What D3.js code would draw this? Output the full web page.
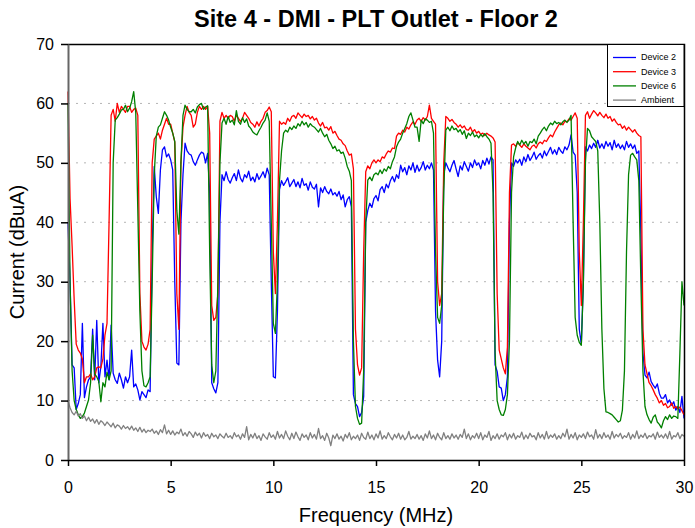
<!DOCTYPE html>
<html>
<head>
<meta charset="utf-8">
<script src="https://cdn.jsdelivr.net/npm/d3@7"></script>
<style>
  body { margin: 0; background: #fff; }
  text { font-family: "Liberation Sans", Arial, sans-serif; fill: #000; }
  .grid line { stroke: #b4b4b4; stroke-dasharray: 2,6; }
</style>
</head>
<body>
<div class="container"></div>
<script>
// Analyzer sweep, 0 - 30 MHz in 0.1 MHz steps
var freqMHz = d3.range(0, 301).map(function(i) { return i / 10; });

var yTicks = [0, 10, 20, 30, 40, 50, 60, 70];
var xTicks = [0, 5, 10, 15, 20, 25, 30];
var seriesNames = ['Device 2', 'Device 3', 'Device 6', 'Ambient'];

var device2 = [
  40, 30, 16, 15.5, 8.5, 9.5, 11, 23, 10.5, 12.3,
  13.5, 14, 22, 13.5, 23.5, 13, 15.7, 23, 14, 16.8,
  13.5, 22.7, 14.6, 13.5, 12.9, 14.6, 13.5, 12.1, 14, 13,
  14, 18.5, 12.3, 12.8, 11.8, 10.1, 11.5, 11, 10.5, 11.8,
  11.5, 35, 49.4, 44.3, 41.5, 48.8, 52.2, 52.7, 51, 51.5,
  50.5, 48.8, 30, 16.3, 16, 40, 48, 53.3, 52, 51.5,
  51.3, 50.2, 49.6, 50.5, 51.3, 51.8, 51.6, 50, 51.6, 45,
  13, 12, 11.3, 13, 40, 48, 47, 48.5, 47.2, 46.6,
  47.5, 48.2, 47, 48.8, 47.4, 46.8, 48, 47.5, 48.6, 47,
  47.6, 46.8, 48.2, 47.2, 47.8, 48.5, 47.5, 49.1, 48, 30,
  14, 13.8, 25, 45.5, 47, 46.2, 46.8, 47.5, 46, 46.6,
  47.2, 46, 46.8, 45.8, 47.4, 46.2, 46.5, 45.4, 46.8, 45.9,
  45.6, 46.4, 42.6, 45.8, 45, 46, 45.2, 44.8, 45.6, 44.6,
  45, 44.4, 45.2, 43.8, 44.6, 42.6, 43.8, 44.3, 42.6, 11,
  9.5, 9, 7.3, 8, 10.7, 40, 42, 43.2, 42.5, 44,
  44.5, 43.6, 45.5, 46, 45, 46.4, 45.8, 47, 47.7, 46.8,
  48, 47.4, 49.6, 48.5, 49.2, 48, 49.5, 48.8, 50, 48.4,
  49.6, 48.6, 49.2, 50.2, 48.8, 49.6, 49, 50, 48.8, 25,
  16.8, 14, 20, 48, 50, 49.2, 48.5, 49.6, 50.4, 49,
  47.7, 49.5, 48.8, 50.2, 49.4, 48.6, 50, 49.2, 50.5, 49.6,
  50, 49, 50.4, 49.6, 50.8, 49.8, 51, 50.5, 16, 14.9,
  12.3, 12.1, 10, 11, 14, 40, 50, 49.4, 50.5, 50,
  50.6, 49.6, 51, 50.2, 51.4, 50.4, 51, 51.8, 50.6, 51.2,
  51.6, 50.8, 52, 51.2, 51.9, 52.6, 51.5, 52.2, 51.4, 52.6,
  52, 51.6, 52.7, 52.2, 53, 54.7, 51.8, 51.3, 45, 22,
  19.5, 30, 52.7, 52, 53, 52.4, 53.3, 52.6, 53.8, 52.5,
  53.2, 52.4, 53.6, 52.8, 53.4, 52.2, 53.8, 52.6, 53.2, 52.4,
  53, 52.2, 53.6, 52.6, 53.2, 52.4, 53, 51.6, 52, 38,
  18, 14.3, 13.8, 14.8, 13.2, 12.6, 12.1, 12.8, 11.2, 10.4,
  10.4, 11, 9.6, 10.1, 9.2, 9.8, 8.4, 9, 8, 10.7,
  7
];

var device3 = [
  62, 44, 36, 27, 19.5, 18.5, 18, 17, 13, 14,
  14, 14.5, 13.5, 14, 15.5, 15.7, 15.5, 17, 21, 23,
  40, 58, 59, 57, 60, 58.5, 59.5, 59, 58.5, 59.5,
  59.5, 58.5, 59, 59.2, 58, 28, 20, 19, 18.5, 19.5,
  22, 50, 54, 54.5, 55, 54, 55.5, 56.5, 57.5, 56.5,
  56.5, 55, 53.5, 28, 22, 50, 56, 58, 59.5, 58.5,
  58, 56, 56.5, 58.5, 59.5, 59, 59.5, 59, 59.5, 55,
  26, 23.5, 24, 28, 57, 58.5, 57.5, 58, 57.5, 58,
  57.8, 57, 58, 57.5, 57, 57.5, 58.5, 58, 57.5, 56.8,
  56.5, 56, 56.9, 56.2, 57, 57.5, 58.5, 58.8, 59.4, 58.6,
  35, 28, 40, 57, 56.5, 56.8, 56.5, 57.5, 57, 57.8,
  58, 57.5, 58.4, 58, 57.6, 58.2, 57.8, 58, 57.4, 57.8,
  57.2, 57.5, 56.7, 56.2, 56.8, 55.9, 56, 55.5, 56.1, 55,
  55.3, 54.6, 54, 53.8, 53.2, 52.9, 52, 51.3, 51.5, 49,
  22, 16, 14.3, 15.5, 35, 48.5, 49.5, 49, 50, 50.5,
  50, 50.5, 50.2, 51, 50.8, 51.5, 52, 51.8, 52.5, 52.4,
  54.5, 55, 54.8, 55.5, 55.2, 56, 55.7, 56.4, 56.9, 56.5,
  57.2, 57.5, 57, 57.6, 57.2, 57.8, 59.7, 57.5, 57, 56.5,
  30, 26, 28, 50, 57.8, 57.5, 57, 57.3, 56.8, 56.5,
  56, 56.4, 55.9, 56.2, 55.6, 55.5, 56, 55.2, 55.6, 55,
  55.3, 54.8, 55, 54.6, 55, 54.7, 54.5, 54.2, 53.5, 28,
  18.5, 17, 15.5, 14.5, 19, 45, 53, 53.2, 52.8, 53.4,
  53, 52.6, 53.2, 52.8, 52.5, 52.2, 52.8, 53, 52.5, 53.2,
  53.5, 53.2, 53.8, 53.6, 54.2, 54.7, 54.4, 55.2, 55.8, 56.4,
  56.7, 56.4, 57, 56.9, 57.4, 57.2, 57.8, 58.4, 57.5, 35,
  26, 40, 58, 58.6, 57.5, 58.2, 58.8, 58.4, 57.9, 58.5,
  58, 57.6, 58.2, 57.5, 57.8, 57, 57.4, 56.8, 56.4, 56.5,
  55.8, 56.2, 55.5, 56, 55.6, 55.2, 55.6, 55, 54.6, 54.4,
  22, 16, 14.5, 13, 12.5, 11.8, 11, 10.4, 9.6, 10,
  9.2, 9.5, 8.8, 9, 9.6, 8.7, 9, 8.6, 8.9, 8.3,
  7.6
];

var device6 = [
  60, 30, 15, 10, 8.5, 7.6, 7, 7.3, 7.9, 9,
  10.1, 13, 21, 14.5, 14, 13.2, 9.8, 13, 12.3, 14.8,
  13.5, 15, 50, 57.2, 57.6, 58.2, 58.9, 59, 59.7, 58.6,
  59.2, 60.3, 62, 58.4, 42, 25, 15, 12.5, 12.3, 13,
  14, 30, 48, 54.5, 56, 56.4, 57.5, 58.6, 58, 57.2,
  56, 55, 53.6, 42, 38, 50, 58, 59.7, 59, 58.6,
  58.6, 59, 58.4, 59.4, 59.8, 60, 59, 59.4, 59.6, 35,
  16, 13, 15, 30, 50, 56.7, 57.5, 56.5, 57.8, 56.8,
  57.2, 56.4, 58.8, 57, 56.5, 57.6, 56.8, 57.4, 56.2, 55.8,
  55.2, 54.9, 54.7, 55.4, 56, 56.7, 57.2, 58.4, 57, 40,
  23, 21.3, 30, 47, 52, 55, 55.5, 55.2, 56, 55.6,
  56.2, 55.8, 56.6, 56.2, 57, 56.4, 56.8, 56, 56.6, 56.2,
  56, 55.6, 55.2, 55.8, 55, 54.4, 54.8, 53.8, 53.2, 52.4,
  52.8, 52, 52.2, 51.6, 51.8, 50.8, 49.4, 48.6, 47, 20,
  9, 7, 6, 6.2, 15, 40, 47.1, 47.6, 47, 48,
  48.3, 48, 48.8, 48.2, 49, 48.6, 49.4, 49, 50.2, 51,
  52.7, 53.5, 54, 55, 55.8, 56.6, 57.8, 58.4, 57.2, 56,
  56, 53.6, 57.2, 56.6, 57.4, 57.2, 56.8, 57, 55, 35,
  24, 23, 26, 45, 55.5, 56, 55.4, 56.2, 55.6, 55.8,
  55.2, 55.6, 54.8, 55.4, 54.1, 55, 54.6, 55.2, 54.4, 54.7,
  54.2, 54.8, 54.4, 54.9, 54.4, 54, 53.3, 45, 18, 10,
  8.5, 7.6, 7.5, 8.5, 11, 20, 45, 51, 52.5, 53.6,
  53, 53.8, 53.2, 53.6, 52.8, 53.6, 53.4, 54, 53.2, 54.5,
  55, 55.6, 56, 55.4, 56.2, 56.7, 56.4, 57, 56.6, 56.8,
  56.4, 56.9, 57.2, 56.8, 57.2, 58, 40, 24, 21, 19.8,
  19.3, 30, 50, 55.8, 55.4, 54.4, 54, 53.6, 52, 40,
  22, 12, 8.1, 8, 7.8, 7.6, 7.2, 6.8, 6.4, 6.6,
  8.4, 15, 35, 48, 51.3, 51.6, 51, 50.5, 47, 30,
  15, 9, 7.6, 6.8, 6.2, 7.2, 7.6, 6.4, 6, 5.4,
  6.6, 7.3, 6.8, 7.6, 7, 7.4, 7.3, 7, 18, 30,
  26
];

var ambient = [
  10, 8.8, 8, 7.6, 8.2, 7.4, 7.8, 7, 7.4, 6.6,
  7.2, 6.5, 6.9, 6.2, 6.8, 6, 6.6, 6.3, 5.8, 6.4,
  6, 5.6, 6.2, 5.4, 5.9, 5.7, 5.2, 5.8, 5.3, 5.6,
  5.1, 5.7, 5, 5.4, 4.8, 5.5, 4.7, 5.2, 4.6, 5,
  4.8, 5.2, 4.5, 4.9, 4.3, 5.1, 4.6, 5.9, 4.4, 5,
  4.3, 4.9, 4.2, 4.7, 4.4, 5.2, 4.1, 4.6, 4, 4.8,
  4.4, 3.8, 4.7, 4.1, 4.5, 3.7, 4.6, 4, 4.3, 3.6,
  4.5, 3.9, 4.2, 3.6, 4.4, 4, 3.7, 4.5, 3.8, 4.1,
  3.6, 4.6, 3.9, 4.2, 3.5, 4.4, 3.8, 5.6, 3.4, 4.3,
  3.7, 4.5, 3.6, 4.1, 3.3, 4.4, 3.9, 3.5, 4.6, 3.8,
  4.2, 3.5, 4.8, 3.7, 4.3, 3.6, 4.9, 4, 3.4, 4.5,
  3.6, 4.7, 3.9, 3.3, 4.4, 3.8, 4.2, 3.4, 4.6, 3.7,
  4.3, 3.5, 5.3, 3.6, 4.1, 3.3, 4.5, 3.7, 2.4, 4.2,
  3.6, 4.4, 3.5, 4, 3.2, 4.3, 3.7, 4.6, 3.4, 4,
  3.6, 4.2, 3.3, 4.5, 3.8, 3.5, 4.7, 3.6, 4.2, 3.4,
  4.4, 3.7, 4.9, 3.5, 4.1, 3.6, 4.6, 3.9, 3.4, 4.3,
  3.7, 4.5, 3.5, 4.2, 3.4, 3.8, 4.8, 3.5, 4, 3.6,
  4.3, 3.5, 4.1, 3.3, 4.4, 3.7, 4.9, 3.6, 4.2, 3.4,
  4.5, 3.8, 3.4, 4.6, 3.6, 4.1, 3.5, 4.4, 3.7, 4.2,
  3.5, 4.3, 3.8, 5.2, 3.6, 4.4, 3.4, 4.1, 3.7, 4.5,
  3.6, 4.6, 3.4, 4.2, 3.8, 4.8, 3.3, 4.1, 3.6, 4.4,
  3.5, 4.2, 3.9, 4.6, 3.4, 4.3, 3.7, 4.5, 3.5, 4.1,
  3.8, 4.7, 3.5, 4.2, 3.6, 4.5, 3.9, 4.1, 3.4, 4.6,
  3.7, 4.3, 3.5, 4.8, 3.6, 4.2, 3.8, 4.4, 3.5, 4.1,
  3.6, 4.5, 3.9, 5.2, 3.5, 4.3, 3.7, 4.6, 3.4, 4.2,
  3.8, 4.4, 3.6, 4.7, 3.9, 4.2, 3.5, 5.1, 3.7, 4.3,
  3.6, 4.6, 3.8, 4.2, 3.5, 4.8, 3.7, 4.3, 3.9, 4.5,
  3.6, 4.1, 3.8, 4.6, 3.5, 4.3, 3.7, 4.9, 3.6, 4.2,
  3.8, 4.5, 3.6, 4.1, 3.9, 4.4, 3.5, 4.7, 3.8, 4.2,
  3.7, 4.4, 3.6, 4.8, 3.5, 4.1, 3.9, 4.6, 3.6, 4.3,
  4
];

var width = 695,
  height = 528,
  plotLeft = 68,
  plotRight = 684,
  plotTop = 44,
  plotBottom = 460;

var seriesData = [device2, device3, device6, ambient];
var seriesColors = ['#0000ff', '#ff0000', '#008000', '#808080'];

var x = d3.scaleLinear().domain([0, 30]).range([plotLeft, plotRight]);
var y = d3.scaleLinear().domain([0, 70]).range([plotBottom, plotTop]);

var svg = d3.select('.container').append('svg')
  .attr('width', width)
  .attr('height', height);

// dotted gridlines
svg.append('g').attr('class', 'grid')
  .selectAll('line')
  .data(yTicks.filter(function(d) { return d > 0 && d < 70; }))
  .enter().append('line')
  .attr('x1', plotLeft)
  .attr('x2', plotRight)
  .attr('y1', function(d) { return y(d); })
  .attr('y2', function(d) { return y(d); });

// traces
var line = d3.line()
  .x(function(d, i) { return x(freqMHz[i]); })
  .y(function(d) { return y(d); });

svg.append('g').attr('class', 'traces')
  .selectAll('path')
  .data(seriesData)
  .enter().append('path')
  .attr('fill', 'none')
  .attr('stroke', function(d, i) { return seriesColors[i]; })
  .attr('stroke-width', 1.3)
  .attr('stroke-linejoin', 'round')
  .attr('d', line);

// frame: top and right
svg.append('path')
  .attr('d', 'M' + plotLeft + ',' + (plotTop + 0.5) + 'H' + (plotRight + 0.5) + 'V' + plotBottom)
  .attr('fill', 'none')
  .attr('stroke', '#000')
  .attr('stroke-width', 1.5);

// axes
var yAxis = svg.append('g')
  .attr('transform', 'translate(' + plotLeft + ',0)')
  .call(d3.axisLeft(y).tickValues(yTicks).tickSize(7).tickSizeOuter(0).tickPadding(7));
yAxis.select('.domain').attr('stroke', '#666').attr('stroke-width', 2);
yAxis.selectAll('.tick line').attr('stroke', '#000').attr('stroke-width', 1.5);
yAxis.selectAll('text').style('font-size', '16px');

var xAxis = svg.append('g')
  .attr('transform', 'translate(0,' + plotBottom + ')')
  .call(d3.axisBottom(x).tickValues(xTicks).tickSize(6).tickSizeOuter(0).tickPadding(16));
xAxis.select('.domain').attr('stroke', '#000').attr('stroke-width', 1.5);
xAxis.selectAll('.tick line').attr('stroke', '#000').attr('stroke-width', 1.5);
xAxis.selectAll('text').style('font-size', '16px');

// titles
svg.append('text')
  .attr('x', (plotLeft + plotRight) / 2)
  .attr('y', 27)
  .attr('text-anchor', 'middle')
  .style('font-size', '23.5px')
  .style('font-weight', 'bold')
  .text('Site 4 - DMI - PLT Outlet - Floor 2');

svg.append('text')
  .attr('x', (plotLeft + plotRight) / 2)
  .attr('y', 522)
  .attr('text-anchor', 'middle')
  .style('font-size', '20px')
  .text('Frequency (MHz)');

svg.append('text')
  .attr('transform', 'translate(24,' + (plotTop + plotBottom) / 2 + ') rotate(-90)')
  .attr('text-anchor', 'middle')
  .style('font-size', '20px')
  .text('Current (dBuA)');

// legend
var legend = svg.append('g').attr('class', 'legend');
legend.append('rect')
  .attr('x', 607.5)
  .attr('y', plotTop + 0.5)
  .attr('width', plotRight - 607.5)
  .attr('height', 62)
  .attr('fill', '#fff')
  .attr('stroke', '#000')
  .attr('stroke-width', 1);

var items = legend.selectAll('.item')
  .data(seriesNames)
  .enter().append('g')
  .attr('class', 'item')
  .attr('transform', function(d, i) { return 'translate(613,' + (57.5 + i * 14.2) + ')'; });

items.append('line')
  .attr('x1', 0)
  .attr('x2', 23)
  .attr('stroke', function(d, i) { return seriesColors[i]; })
  .attr('stroke-width', 1.3);

items.append('text')
  .attr('x', 28)
  .attr('dy', '0.33em')
  .style('font-size', '9px')
  .text(function(d) { return d; });
</script>
</body>
</html>
